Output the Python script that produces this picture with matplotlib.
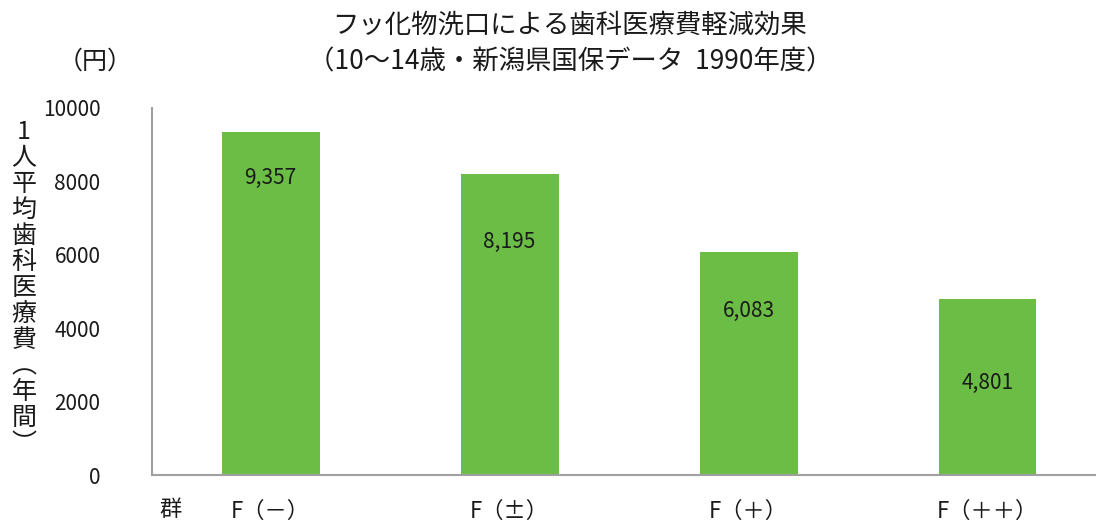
import matplotlib.pyplot as plt

plt.rcParams['font.family'] = ['Noto Sans CJK JP', 'DejaVu Sans']

# data
groups = ['F（－）', 'F（±）', 'F（＋）', 'F（＋＋）']
cost = [9357, 8195, 6083, 4801]
label_drop = [1250, 1850, 1600, 2300]  # how far each value label sits below the bar top

bar_color = '#6cbd45'
text_color = '#1a1a1a'

fig = plt.figure(figsize=(10.96, 5.27), dpi=100)
ax = fig.add_axes([152 / 1096, 1 - 475 / 527, 1 - 152 / 1096, (475 - 108) / 527])

x = range(len(groups))
ax.bar(x, cost, width=0.41, color=bar_color)

for i, v in enumerate(cost):
    ax.text(i, v - label_drop[i], f'{v:,}', ha='center', va='center',
            fontsize=15, color=text_color)

ax.set_xlim(-0.496, 3.454)
ax.set_ylim(0, 10000)
ax.set_yticks([0, 2000, 4000, 6000, 8000, 10000])
ax.tick_params(axis='y', length=0, pad=37, labelsize=15, labelcolor=text_color)
ax.tick_params(axis='x', length=0, pad=18, labelsize=16, labelcolor=text_color)
ax.set_xticks(list(x))
ax.set_xticklabels(groups)

for s in ['top', 'right']:
    ax.spines[s].set_visible(False)
for s in ['left', 'bottom']:
    ax.spines[s].set_color('#a0a0a0')
    ax.spines[s].set_linewidth(1.5)

fig.text(570 / 1096, 1 - 25 / 527, 'フッ化物洗口による歯科医療費軽減効果',
         ha='center', va='center', fontsize=19, color=text_color)
fig.text(570 / 1096, 1 - 62 / 527, '（10～14歳・新潟県国保データ  1990年度）',
         ha='center', va='center', fontsize=19, color=text_color)
fig.text(95 / 1096, 1 - 62 / 527, '（円）', ha='center', va='center',
         fontsize=18, color=text_color)
fig.text(170 / 1096, 1 - 510 / 527, '群', ha='center', va='center',
         fontsize=16, color=text_color)

ylab = ['1', '人', '平', '均', '歯', '科', '医', '療', '費', '︵', '年', '間', '︶']
fig.text(24 / 1096, 1 - 288 / 527, '\n'.join(ylab), ha='center', va='center',
         fontsize=18, linespacing=1.0, color=text_color)

fig.savefig('out.png', dpi=100)
